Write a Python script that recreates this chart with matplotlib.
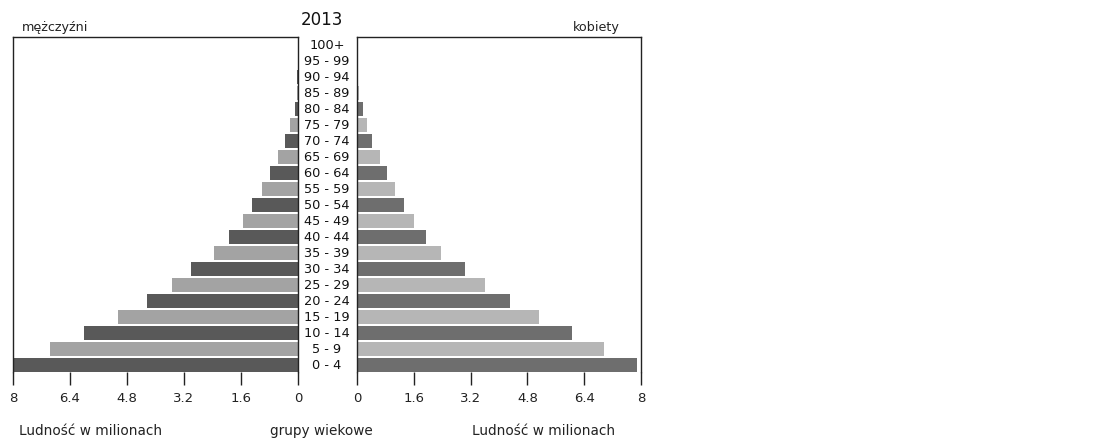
"""Population pyramid, 2013."""

import matplotlib

matplotlib.use("Agg")

import matplotlib.pyplot as plt
import matplotlib.transforms as mtransforms

age_groups = [
    "0 - 4", "5 - 9", "10 - 14", "15 - 19", "20 - 24", "25 - 29", "30 - 34",
    "35 - 39", "40 - 44", "45 - 49", "50 - 54", "55 - 59", "60 - 64",
    "65 - 69", "70 - 74", "75 - 79", "80 - 84", "85 - 89", "90 - 94",
    "95 - 99", "100+",
]
men = [
    7.98, 6.97, 6.01, 5.05, 4.24, 3.53, 2.99, 2.36, 1.95, 1.55, 1.28,
    1.02, 0.79, 0.57, 0.37, 0.22, 0.09, 0.04, 0.02, 0.01, 0.005,
]
women = [
    7.90, 6.95, 6.06, 5.13, 4.32, 3.61, 3.03, 2.37, 1.95, 1.60, 1.33,
    1.06, 0.85, 0.64, 0.43, 0.28, 0.16, 0.065, 0.03, 0.015, 0.005,
]
ticks = [0, 1.6, 3.2, 4.8, 6.4, 8]
tick_labels = ["0", "1.6", "3.2", "4.8", "6.4", "8"]

W, H = 1093, 439
fig = plt.figure(figsize=(W / 100, H / 100), dpi=100)
fig.patch.set_facecolor("white")

y_top = 1 - 38 / H
y_bot = 1 - 373 / H
ax_l = fig.add_axes([13 / W, y_bot, (298 - 13) / W, y_top - y_bot])
ax_r = fig.add_axes([357 / W, y_bot, (641 - 357) / W, y_top - y_bot])

ypos = list(range(len(age_groups)))
left_colors = ["#595959" if i % 2 == 0 else "#a3a3a3" for i in ypos]
right_colors = ["#6e6e6e" if i % 2 == 0 else "#b6b6b6" for i in ypos]

ax_l.barh(ypos, men, height=0.84, color=left_colors)
ax_r.barh(ypos, women, height=0.84, color=right_colors)

ax_l.set_xlim(8, 0)
ax_r.set_xlim(0, 8)

for ax in (ax_l, ax_r):
    ax.set_ylim(-0.44, 20.5)
    ax.set_yticks([])
    ax.set_xticks(ticks)
    ax.set_xticklabels(tick_labels)
    ax.spines["bottom"].set_visible(False)
    for side in ("left", "right", "top"):
        ax.spines[side].set_color("#222222")
        ax.spines[side].set_linewidth(1.0)
    ax.tick_params(axis="x", direction="out", length=9, width=1.0,
                   color="#222222", labelsize=9.5, labelcolor="#222222", pad=5)

# age group labels in the gap between the two panels
trans = mtransforms.blended_transform_factory(fig.transFigure, ax_l.transData)
for i, label in enumerate(age_groups):
    fig.text(327 / W, i, label, transform=trans, ha="center", va="center",
             fontsize=9.3, color="#111111")

fig.text(322 / W, 1 - 20 / H, "2013", ha="center", va="center",
         fontsize=12, color="#111111")
fig.text(22 / W, 1 - 27 / H, "mężczyźni", ha="left", va="center",
         fontsize=9.2, color="#222222")
fig.text(620 / W, 1 - 27 / H, "kobiety", ha="right", va="center",
         fontsize=9.2, color="#222222")
fig.text(91 / W, 1 - 431 / H, "Ludność w milionach", ha="center",
         va="center", fontsize=9.8, color="#222222")
fig.text(321 / W, 1 - 431 / H, "grupy wiekowe", ha="center",
         va="center", fontsize=9.8, color="#222222")
fig.text(544 / W, 1 - 431 / H, "Ludność w milionach", ha="center",
         va="center", fontsize=9.8, color="#222222")

fig.savefig("out.png", dpi=100, facecolor="white")
